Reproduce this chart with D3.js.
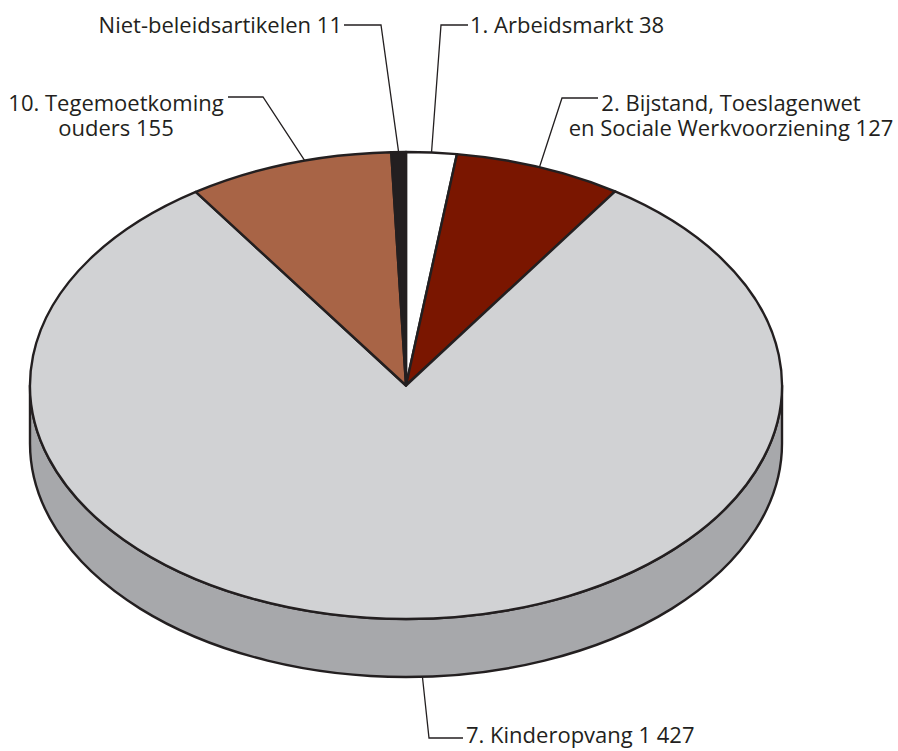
<!DOCTYPE html>
<html>
<head>
<meta charset="utf-8">
<script src="https://cdn.jsdelivr.net/npm/d3@7"></script>
<style>
  html, body { margin: 0; padding: 0; background: #ffffff; }
  svg { display: block; }
  text { font-family: "Open Sans", "Noto Sans", sans-serif; fill: #231f20; }
</style>
</head>
<body>
<svg id="chart" width="898" height="751"></svg>
<script>
// ---- data ----
const categories = [
  "1. Arbeidsmarkt",
  "2. Bijstand, Toeslagenwet en Sociale Werkvoorziening",
  "7. Kinderopvang",
  "10. Tegemoetkoming ouders",
  "Niet-beleidsartikelen"
];
const values = [38, 127, 1427, 155, 11];
const valueLabels = ["38", "127", "1 427", "155", "11"];
const labelLines = [
  ["1. Arbeidsmarkt 38"],
  ["2. Bijstand, Toeslagenwet", "en Sociale Werkvoorziening 127"],
  ["7. Kinderopvang 1 427"],
  ["10. Tegemoetkoming", "ouders 155"],
  ["Niet-beleidsartikelen 11"]
];
const colors = ["#ffffff", "#7a1600", "#d1d2d4", "#a86446", "#231f20"];

// ---- layout ----
const W = 898, H = 751;
const cx = 406, cy = 385.5, rx = 376, ry = 233.5, depth = 58;
const sideColor = "#a7a8ab";
const strokeColor = "#231f20";

const svg = d3.select("#chart");

const pie = d3.pie().sort(null).value(d => d).startAngle(0).endAngle(2 * Math.PI);
const arcs = pie(values);

// point on the (top) ellipse for a pie angle (0 = 12 o'clock, clockwise)
const pt = (a, dy = 0) => [cx + rx * Math.sin(a), cy - ry * Math.cos(a) + dy];

// side (front half only is visible)
const sideD = `M${cx - rx},${cy} L${cx - rx},${cy + depth} ` +
  `A${rx},${ry} 0 0 0 ${cx + rx},${cy + depth} L${cx + rx},${cy} ` +
  `A${rx},${ry} 0 0 1 ${cx - rx},${cy} Z`;
svg.append("path")
  .attr("d", sideD)
  .attr("fill", sideColor)
  .attr("stroke", strokeColor)
  .attr("stroke-width", 2.4)
  .attr("stroke-linejoin", "round");

// top slices
function sliceD(d) {
  const [x0, y0] = pt(d.startAngle);
  const [x1, y1] = pt(d.endAngle);
  const large = (d.endAngle - d.startAngle) > Math.PI ? 1 : 0;
  return `M${cx},${cy} L${x0},${y0} A${rx},${ry} 0 ${large} 1 ${x1},${y1} Z`;
}
svg.append("g").selectAll("path")
  .data(arcs)
  .join("path")
  .attr("d", sliceD)
  .attr("fill", (d, i) => colors[i])
  .attr("stroke", strokeColor)
  .attr("stroke-width", 2.4)
  .attr("stroke-linejoin", "round");

// ---- labels with leader lines ----
const labelLayout = [
  { tx: 470, ty: 24, anchor: "start", elbow: [441, 25], shift: 0, bottom: false },
  { tx: 731, ty: 102, anchor: "middle", elbow: [562, 98], start: [598, 98], shift: 0, bottom: false },
  { tx: 466, ty: 734, anchor: "start", elbow: [429, 738], start: [463, 738], shift: -2.4, bottom: true },
  { tx: 116, ty: 102, anchor: "middle", elbow: [263, 97], start: [228, 97], shift: 2.5, bottom: false },
  { tx: 342, ty: 24, anchor: "end", elbow: [381, 25], shift: 0, bottom: false }
];
const fontSize = 22, lineH = 25;

const lg = svg.append("g");
arcs.forEach((d, i) => {
  const L = labelLayout[i];
  const mid = (d.startAngle + d.endAngle) / 2 + L.shift * Math.PI / 180;
  const p = L.bottom ? pt(mid, depth) : pt(mid);
  const start = L.start || [L.anchor === "end" ? L.tx + 2 : L.tx - 2, L.elbow[1]];
  lg.append("polyline")
    .attr("points", [start, L.elbow, p].map(q => q.join(",")).join(" "))
    .attr("fill", "none")
    .attr("stroke", strokeColor)
    .attr("stroke-width", 1.3);
  labelLines[i].forEach((line, j) => {
    lg.append("text")
      .attr("x", L.tx)
      .attr("y", L.ty + j * lineH)
      .attr("text-anchor", L.anchor)
      .attr("dominant-baseline", "central")
      .attr("font-size", fontSize)
      .text(line);
  });
});
</script>
</body>
</html>
